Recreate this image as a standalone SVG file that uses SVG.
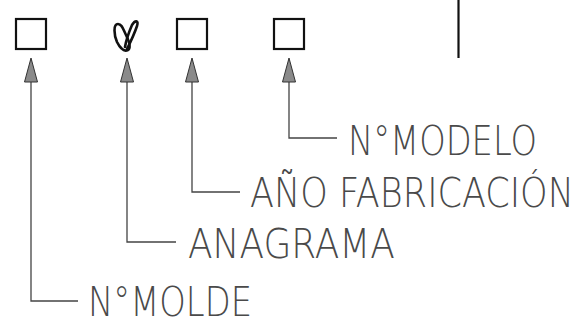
<svg xmlns="http://www.w3.org/2000/svg" width="585" height="325" viewBox="0 0 585 325">
<style>
.box{fill:none;stroke:#111;stroke-width:2.2}
.ld{fill:none;stroke:#444;stroke-width:1.3}
.ah{fill:#8a8a8a;stroke:#333;stroke-width:1}
.t{font-family:"DejaVu Sans","Liberation Sans",sans-serif;font-weight:200;font-size:41px;fill:#4a4a4a}
</style>
<rect width="585" height="325" fill="#fff"/>
<line x1="458.5" y1="0" x2="458.5" y2="58" stroke="#111" stroke-width="2.2"/>
<g id="box-molde"><rect class="box" x="16" y="19" width="30" height="30"/></g>
<g id="anagrama-mark" fill="none" stroke="#111" stroke-width="2.6" stroke-linecap="round" stroke-linejoin="round">
<path d="M118,24 C113,24 114,35 117,42 C120,48 124,52 128,50 C131,48 129,41 126,35 C123,29 122,24 118,24 Z"/>
<path d="M127,49 C131,41 135,32 137,26 C139,20 135,20 132,25 C129,32 126,41 125,47"/>
</g>
<g id="box-ano"><rect class="box" x="177" y="19" width="30" height="30"/></g>
<g id="box-modelo"><rect class="box" x="274" y="19" width="30" height="30"/></g>
<g id="connectors">
<path class="ld" d="M31,60 V301 H78"/>
<path class="ld" d="M127,60 V242 H176"/>
<path class="ld" d="M192,60 V192 H240"/>
<path class="ld" d="M289,60 V138 H337"/>
<polygon class="ah" points="31,58 24.5,82 37.5,82"/>
<polygon class="ah" points="127,58 120.5,82 133.5,82"/>
<polygon class="ah" points="192,58 185.5,82 198.5,82"/>
<polygon class="ah" points="289,58 282.5,82 295.5,82"/>
</g>
<g id="label-modelo"><text class="t" transform="translate(348,155) scale(0.82,1)" x="0" y="0" textLength="230.5" lengthAdjust="spacingAndGlyphs">N°MODELO</text></g>
<g id="label-ano"><text class="t" transform="translate(250,207) scale(0.82,1)" x="0" y="0" textLength="395" lengthAdjust="spacingAndGlyphs">AÑO FABRICACIÓN</text></g>
<g id="label-anagrama"><text class="t" transform="translate(188,258) scale(0.82,1)" x="0" y="0" textLength="252.4" lengthAdjust="spacingAndGlyphs">ANAGRAMA</text></g>
<g id="label-molde"><text class="t" transform="translate(88,316) scale(0.82,1)" x="0" y="0" textLength="200" lengthAdjust="spacingAndGlyphs">N°MOLDE</text></g>
</svg>
